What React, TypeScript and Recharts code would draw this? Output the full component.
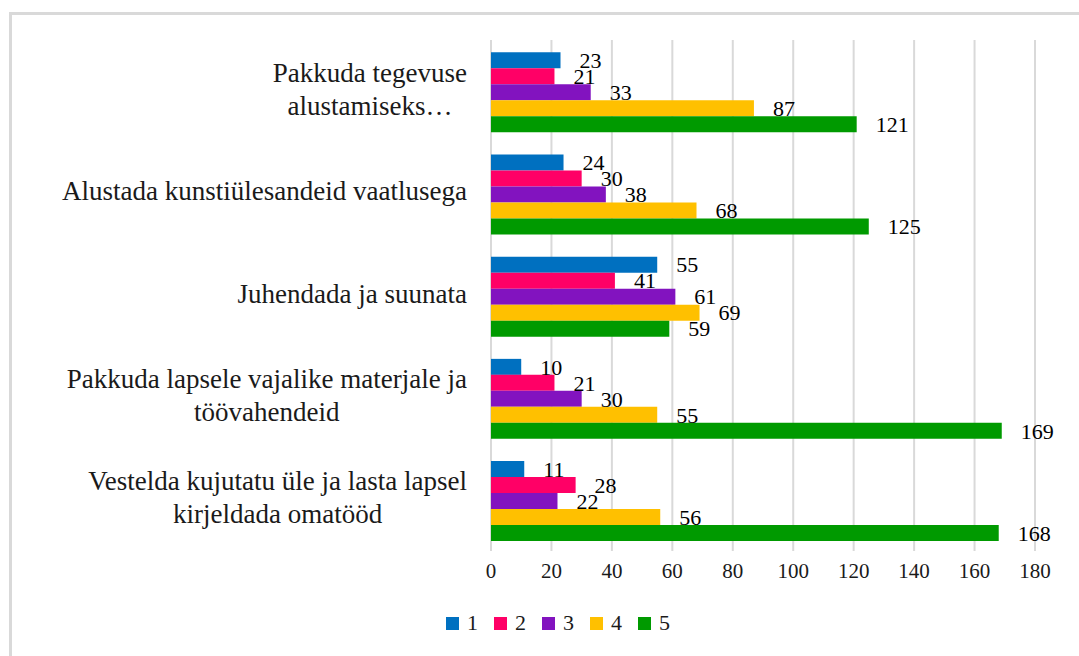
import React from "react";
import {
  BarChart,
  Bar,
  XAxis,
  YAxis,
  CartesianGrid,
  LabelList,
} from "recharts";

const categories = [
  "Pakkuda tegevuse\nalustamiseks…",
  "Alustada kunstiülesandeid vaatlusega",
  "Juhendada ja suunata",
  "Pakkuda lapsele vajalike materjale ja\ntöövahendeid",
  "Vestelda kujutatu üle ja lasta lapsel\nkirjeldada omatööd",
];

const series1 = [23, 24, 55, 10, 11];
const series2 = [21, 30, 41, 21, 28];
const series3 = [33, 38, 61, 30, 22];
const series4 = [87, 68, 69, 55, 56];
const series5 = [121, 125, 59, 169, 168];

const seriesNames = ["1", "2", "3", "4", "5"];
const xTicks = [0, 20, 40, 60, 80, 100, 120, 140, 160, 180];

const COLORS = ["#0070C0", "#FF0066", "#8213BF", "#FFC000", "#009A00"];
const FONT = "Liberation Serif, DejaVu Serif, serif";

const data = categories.map((name, i) => ({
  name,
  s1: series1[i],
  s2: series2[i],
  s3: series3[i],
  s4: series4[i],
  s5: series5[i],
}));

let ctx: CanvasRenderingContext2D | null = null;
const measure = (text: string) => {
  if (!ctx) {
    ctx = document.createElement("canvas").getContext("2d");
    if (ctx) ctx.font = "27px Liberation Serif, DejaVu Serif, serif";
  }
  return ctx ? ctx.measureText(text).width : text.length * 12;
};

// excel style category label: lines centred on each other, block right aligned
const CategoryTick = (props: any) => {
  const { x, y, payload } = props;
  const lines = String(payload.value).split("\n");
  const w = Math.max(...lines.map(measure));
  const cx = x - w / 2;
  return (
    <text
      fontSize={27}
      textAnchor="middle"
      fill="#1a1a1a"
      style={{ fontFamily: FONT }}
    >
      {lines.map((line, i) => (
        <tspan key={i} x={cx} y={y + (i - (lines.length - 1) / 2) * 33 + 7}>
          {line}
        </tspan>
      ))}
    </text>
  );
};

const App = () => {
  return (
    <div
      style={{
        position: "absolute",
        left: 9,
        top: 12,
        width: 1067,
        height: 641,
        borderTop: "3px solid #d9d9d9",
        borderLeft: "3px solid #d9d9d9",
        fontFamily: FONT,
      }}
    >
      <BarChart
        width={1067}
        height={580}
        data={data}
        layout="vertical"
        margin={{ top: 25, right: 44, bottom: 0, left: 0 }}
        barCategoryGap="12%"
        barGap={0}
        style={{ fontFamily: FONT }}
      >
        <CartesianGrid horizontal={false} stroke="#d9d9d9" strokeWidth={2} />
        <XAxis
          type="number"
          domain={[0, 180]}
          ticks={xTicks}
          axisLine={false}
          tickLine={false}
          tickSize={0}
          tickMargin={12}
          height={44}
          tick={{ fontSize: 21, fill: "#1a1a1a" }}
        />
        <YAxis
          type="category"
          dataKey="name"
          width={479}
          axisLine={false}
          tickLine={false}
          tickSize={0}
          tickMargin={24}
          tick={<CategoryTick />}
        />
        {["s1", "s2", "s3", "s4", "s5"].map((key, i) => (
          <Bar
            key={key}
            dataKey={key}
            name={seriesNames[i]}
            fill={COLORS[i]}
            isAnimationActive={false}
          >
            <LabelList
              dataKey={key}
              position="right"
              offset={19}
              fill="#000"
              fontSize={22}
            />
          </Bar>
        ))}
      </BarChart>
      <div
        style={{
          position: "absolute",
          left: 434,
          top: 595,
          height: 26,
          display: "flex",
          alignItems: "center",
          fontSize: 22,
          color: "#1a1a1a",
        }}
      >
        {seriesNames.map((n, i) => (
          <div key={n} style={{ display: "flex", alignItems: "center", marginRight: 16 }}>
            <span
              style={{ width: 13, height: 13, background: COLORS[i], marginRight: 8 }}
            />
            <span>{n}</span>
          </div>
        ))}
      </div>
    </div>
  );
};

export default App;
